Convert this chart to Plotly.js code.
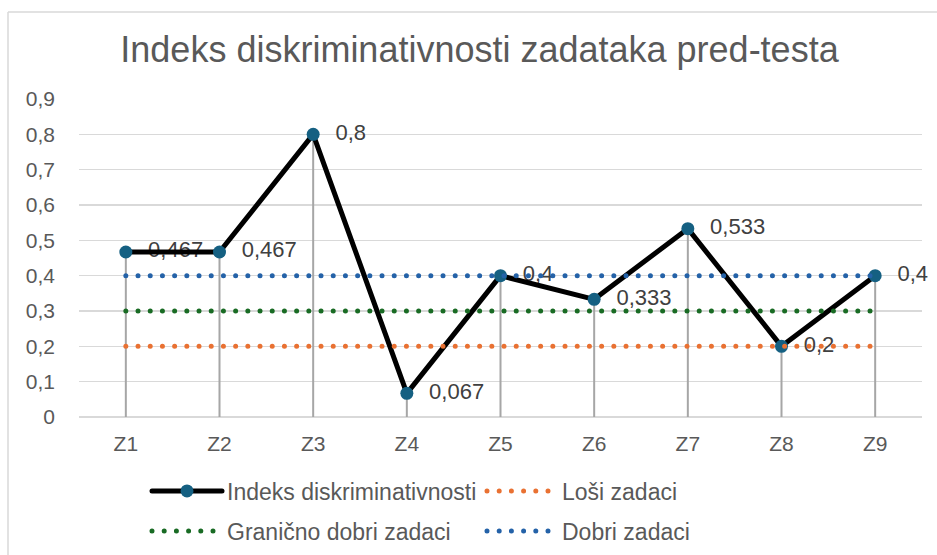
<!DOCTYPE html>
<html>
<head>
<meta charset="utf-8">
<script src="https://cdn.plot.ly/plotly-3.0.1.min.js"></script>
<style>
  html, body { margin: 0; padding: 0; background: #ffffff; }
  #chart { width: 937px; height: 555px; }
  .js-line { stroke-linecap: round; stroke-linejoin: round; }
</style>
</head>
<body>
<div id="chart"></div>
<script>
// ---- data ----
const categories = ["Z1", "Z2", "Z3", "Z4", "Z5", "Z6", "Z7", "Z8", "Z9"];
const indeks = [0.467, 0.467, 0.8, 0.067, 0.4, 0.333, 0.533, 0.2, 0.4];
const losiZadaci = [0.2, 0.2, 0.2, 0.2, 0.2, 0.2, 0.2, 0.2, 0.2];
const granicnoDobri = [0.3, 0.3, 0.3, 0.3, 0.3, 0.3, 0.3, 0.3, 0.3];
const dobriZadaci = [0.4, 0.4, 0.4, 0.4, 0.4, 0.4, 0.4, 0.4, 0.4];
const seriesNames = ["Indeks diskriminativnosti", "Loši zadaci", "Granično dobri zadaci", "Dobri zadaci"];
const chartTitle = "Indeks diskriminativnosti zadataka pred-testa";

// ---- derived ----
const dropX = [], dropY = [];
categories.forEach((c, i) => { dropX.push(c, c, null); dropY.push(0, indeks[i], null); });
const labelText = indeks.map(v => String(v).replace('.', ','));

const FONT = '"Liberation Sans", Arial, sans-serif';
const dotDash = '0px,12.2px';

const traces = [
  { x: dropX, y: dropY, mode: 'lines', type: 'scatter',
    line: { color: '#a6a6a6', width: 2 }, showlegend: false, hoverinfo: 'skip' },
  { x: categories, y: indeks, mode: 'markers+text', type: 'scatter',
    text: labelText, textposition: 'middle right', cliponaxis: false,
    textfont: { family: FONT, size: 22, color: '#404040' },
    marker: { size: 34, color: 'rgba(0,0,0,0)' }, showlegend: false, hoverinfo: 'skip' },
  { x: categories, y: indeks, name: seriesNames[0], mode: 'lines+markers', type: 'scatter',
    line: { color: '#000000', width: 5 }, marker: { color: '#156082', size: 13 },
    cliponaxis: false, legend: 'legend' },
  { x: categories, y: losiZadaci, name: seriesNames[1], mode: 'lines', type: 'scatter',
    line: { color: '#E97132', width: 5, dash: dotDash }, legend: 'legend' },
  { x: categories, y: granicnoDobri, name: seriesNames[2], mode: 'lines', type: 'scatter',
    line: { color: '#196B24', width: 5, dash: dotDash }, legend: 'legend2' },
  { x: categories, y: dobriZadaci, name: seriesNames[3], mode: 'lines', type: 'scatter',
    line: { color: '#2462A8', width: 5, dash: dotDash }, legend: 'legend2' }
];

const plotL = 79, plotR = 922, plotT = 99, plotB = 417;
const pw = plotR - plotL, ph = plotB - plotT;
const px2x = p => (p - plotL) / pw;
const px2y = p => (plotB - p) / ph;

const legendCommon = {
  orientation: 'h', xanchor: 'left', yanchor: 'middle',
  itemwidth: 70, entrywidth: 250, entrywidthmode: 'pixels',
  font: { family: FONT, size: 23, color: '#595959' },
  bgcolor: 'rgba(0,0,0,0)', borderwidth: 0, traceorder: 'normal'
};

const layout = {
  width: 937, height: 555,
  margin: { l: plotL, r: 937 - plotR, t: plotT, b: 555 - plotB, pad: 0, autoexpand: false },
  paper_bgcolor: '#ffffff', plot_bgcolor: '#ffffff',
  separators: ',.',
  font: { family: FONT, color: '#595959' },
  title: { text: chartTitle, font: { family: FONT, size: 36, color: '#595959' },
           x: 479.5 / 937, xref: 'container', xanchor: 'center',
           y: 1 - 49 / 555, yref: 'container', yanchor: 'middle' },
  xaxis: { type: 'category', range: [-0.5, 8.5], showgrid: false, zeroline: false,
           showline: false, ticks: '', ticklabelstandoff: 12,
           tickfont: { family: FONT, size: 21, color: '#595959' } },
  yaxis: { range: [0, 0.9], dtick: 0.1, tick0: 0, showgrid: true, gridcolor: '#d9d9d9', gridwidth: 1.5,
           zeroline: true, zerolinecolor: '#d9d9d9', zerolinewidth: 1.5, showline: false, ticks: '',
           ticklabelstandoff: 23,
           tickfont: { family: FONT, size: 21, color: '#595959' } },
  legend: Object.assign({}, legendCommon, { x: px2x(147), y: px2y(491) }),
  legend2: Object.assign({}, legendCommon, { x: px2x(147), y: px2y(531) }),
  shapes: [
    { type: 'line', xref: 'paper', yref: 'paper', x0: px2x(8), x1: px2x(960), y0: px2y(12), y1: px2y(12),
      line: { color: '#d9d9d9', width: 1.5 }, layer: 'below' },
    { type: 'line', xref: 'paper', yref: 'paper', x0: px2x(8), x1: px2x(8), y0: px2y(12), y1: px2y(580),
      line: { color: '#d9d9d9', width: 1.5 }, layer: 'below' }
  ],
  showlegend: true,
  hovermode: false
};

Plotly.newPlot('chart', traces, layout, { displayModeBar: false, staticPlot: true });
</script>
</body>
</html>
